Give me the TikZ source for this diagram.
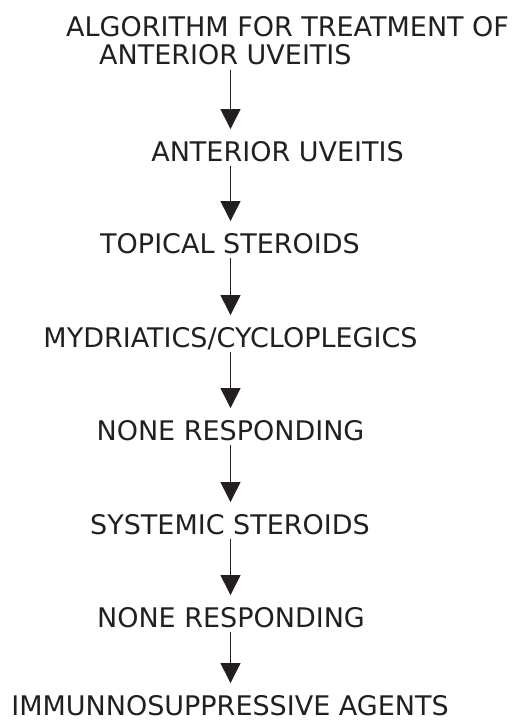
\documentclass[tikz,border=0pt]{standalone}
\usepackage{fontspec}
\setmainfont{DejaVu Sans}
\usetikzlibrary{arrows.meta}
\definecolor{inkdark}{RGB}{35,31,32}
\tikzset{
    algo title/.style={
        anchor=south west,
        inner sep=0pt,
        align=left,
        text=inkdark,
        font=\fontsize{27}{28}\selectfont
    },
    algo step/.style={
        anchor=base,
        inner sep=0pt,
        text height=19.7pt,
        text depth=0pt,
        text=inkdark,
        font=\fontsize{27}{28}\selectfont
    },
    algo arrow/.style={-{Triangle[length=20pt,width=20pt]}, line width=1pt, draw=inkdark, fill=inkdark,
        shorten <=5pt, shorten >=12pt}
}

\begin{document}
\begin{tikzpicture}[x=1pt,y=1pt]
    \useasboundingbox (0,0) rectangle (512,-722);
    \coordinate (axis) at (230.5,0);

    \node[algo title] (title) at (66,-65) {ALGORITHM FOR TREATMENT OF\\\hspace*{33pt}ANTERIOR UVEITIS};
    \node[algo step] (uveitis) at (277.5,-161) {ANTERIOR UVEITIS};
    \node[algo step] (topical) at (230,-253) {TOPICAL STEROIDS};
    \node[algo step] (mydriatics) at (230.5,-347) {MYDRIATICS/CYCLOPLEGICS};
    \node[algo step] (none1) at (230.5,-440) {NONE RESPONDING};
    \node[algo step] (systemic) at (230,-534) {SYSTEMIC STEROIDS};
    \node[algo step] (none2) at (231,-627) {NONE RESPONDING};
    \node[algo step] (immuno) at (230,-715) {IMMUNNOSUPPRESSIVE AGENTS};

    \draw[algo arrow] (title.south -| axis) -- (uveitis.north -| axis);
    \draw[algo arrow] (uveitis.south -| axis) -- (topical.north -| axis);
    \draw[algo arrow] (topical.south -| axis) -- (mydriatics.north -| axis);
    \draw[algo arrow] (mydriatics.south -| axis) -- (none1.north -| axis);
    \draw[algo arrow] (none1.south -| axis) -- (systemic.north -| axis);
    \draw[algo arrow] (systemic.south -| axis) -- (none2.north -| axis);
    \draw[algo arrow] (none2.south -| axis) -- (immuno.north -| axis);
\end{tikzpicture}
\end{document}
